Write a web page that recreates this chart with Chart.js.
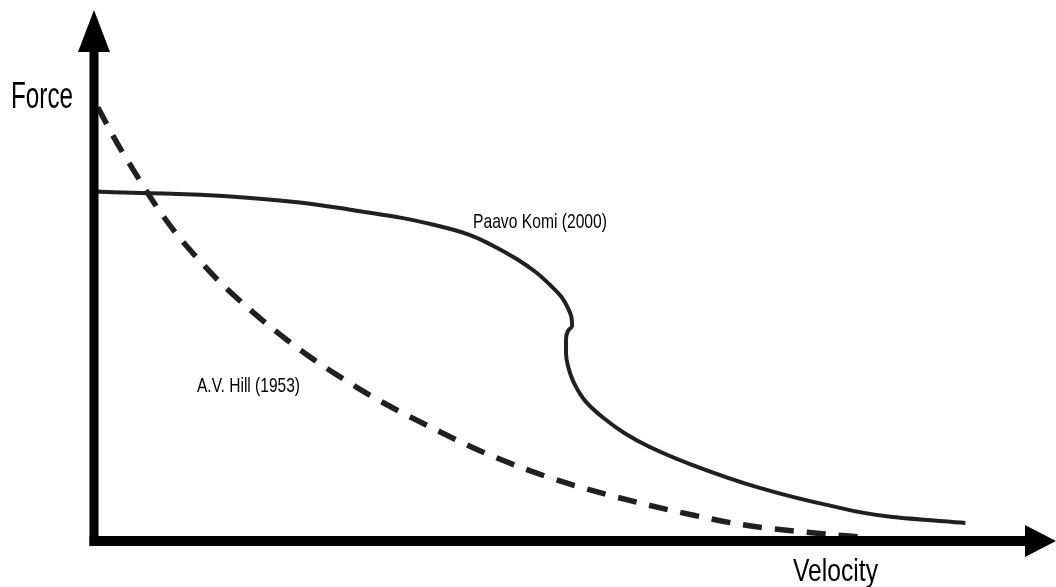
<!DOCTYPE html>
<html>
<head>
<meta charset="utf-8">
<script src="https://cdn.jsdelivr.net/npm/chart.js@4"></script>
<style>
  html, body { margin: 0; padding: 0; background: #fff; }
  #wrap { width: 1056px; height: 587px; position: relative; }
</style>
</head>
<body>
<div id="wrap"><canvas id="forceChart"></canvas></div>
<script>
// Curves (arbitrary units, 0-100 on both axes)
const hillVelocity = [0.4, 2.3, 3.9, 5.5, 7.1, 9.2, 11.4, 13.5, 15.7, 18.2, 20.7, 23.5, 26.8, 30.7, 36.1, 42.5, 49.7, 56.5, 64.3, 71.5, 78.7, 82.3];
const hillForce    = [81.7, 75.5, 70.8, 66.3, 62.0, 57.1, 52.7, 48.8, 45.2, 41.4, 37.9, 34.3, 30.5, 26.4, 21.5, 16.2, 11.5, 8.1, 4.9, 2.6, 1.3, 0.75];

const komiVelocity = [0.1, 6.0, 11.4, 17.5, 22.1, 27.5, 32.9, 36.6, 40.1, 42.75, 45.4, 47.4, 49.0, 50.2, 50.9, 51.3, 51.35, 50.9, 50.7, 50.7, 50.9, 51.55, 52.85, 54.7, 57.0, 59.7, 64.3, 71.5, 78.7, 85.8, 93.6];
const komiForce    = [65.8, 65.5, 65.2, 64.5, 63.75, 62.4, 60.9, 59.5, 57.8, 55.7, 53.1, 50.7, 48.2, 46.0, 43.9, 42.0, 40.5, 39.55, 37.85, 35.4, 33.0, 29.8, 26.2, 23.2, 20.3, 17.7, 14.3, 10.0, 6.8, 4.5, 3.4];

const xLabel = 'Velocity';
const yLabel = 'Force';
const hillLabel = 'A.V. Hill (1953)';
const komiLabel = 'Paavo Komi (2000)';

const curveColor = '#231f20';

// condensed text: draw with a narrow face and squeeze to the wanted width
function drawText(ctx, text, left, baseline, size, width) {
    ctx.save();
    ctx.font = size + 'px "Liberation Sans Narrow", "Liberation Sans", Arial, sans-serif';
    ctx.fillStyle = '#000';
    ctx.textBaseline = 'alphabetic';
    ctx.textAlign = 'left';
    const w = ctx.measureText(text).width;
    ctx.translate(left, baseline);
    ctx.scale(width / w, 1);
    ctx.fillText(text, 0, 0);
    ctx.restore();
}

const axesPlugin = {
    id: 'arrowAxes',
    afterDatasetsDraw(chart) {
        const ctx = chart.ctx;
        const xs = chart.scales.x;
        const ys = chart.scales.y;
        const x0 = xs.getPixelForValue(0);
        const y0 = ys.getPixelForValue(0);
        const yTop = ys.getPixelForValue(100);
        const xEnd = xs.getPixelForValue(100);

        ctx.save();
        ctx.fillStyle = '#000';
        // vertical axis
        ctx.fillRect(x0 - 4.5, yTop + 40, 9, y0 - yTop - 40 + 5);
        ctx.beginPath();
        ctx.moveTo(x0 - 16, yTop + 42);
        ctx.lineTo(x0 + 16, yTop + 42);
        ctx.lineTo(x0, yTop);
        ctx.closePath();
        ctx.fill();
        // horizontal axis
        ctx.fillRect(x0 - 4.5, y0 - 5, xEnd - x0 + 6, 10);
        ctx.beginPath();
        ctx.moveTo(xEnd, y0 - 16);
        ctx.lineTo(xEnd, y0 + 16);
        ctx.lineTo(xEnd + 31, y0);
        ctx.closePath();
        ctx.fill();
        ctx.restore();

        drawText(ctx, yLabel, 11, 108, 36, 62);
        drawText(ctx, xLabel, 793, 581, 32, 85);
        drawText(ctx, hillLabel, 197, 392, 21, 103);
        drawText(ctx, komiLabel, 473, 228, 21, 134);
    }
};

new Chart(document.getElementById('forceChart').getContext('2d'), {
    type: 'scatter',
    data: {
        datasets: [
            {
                label: hillLabel,
                data: hillVelocity.map((v, i) => ({ x: v, y: hillForce[i] })),
                showLine: true,
                borderColor: curveColor,
                borderWidth: 5.5,
                borderDash: [19, 13],
                borderCapStyle: 'butt',
                pointRadius: 0,
                cubicInterpolationMode: 'monotone'
            },
            {
                label: komiLabel,
                data: komiVelocity.map((v, i) => ({ x: v, y: komiForce[i] })),
                showLine: true,
                borderColor: curveColor,
                borderWidth: 4,
                pointRadius: 0,
                cubicInterpolationMode: 'monotone'
            }
        ]
    },
    options: {
        // force falls steadily along both curves, so interpolate along y
        indexAxis: 'y',
        responsive: true,
        maintainAspectRatio: false,
        animation: false,
        layout: { padding: { left: 94, right: 31, top: 10, bottom: 46 } },
        plugins: {
            legend: { display: false },
            tooltip: { enabled: false }
        },
        scales: {
            x: { type: 'linear', min: 0, max: 100, display: false },
            y: { type: 'linear', min: 0, max: 100, display: false }
        }
    },
    plugins: [axesPlugin]
});
</script>
</body>
</html>
